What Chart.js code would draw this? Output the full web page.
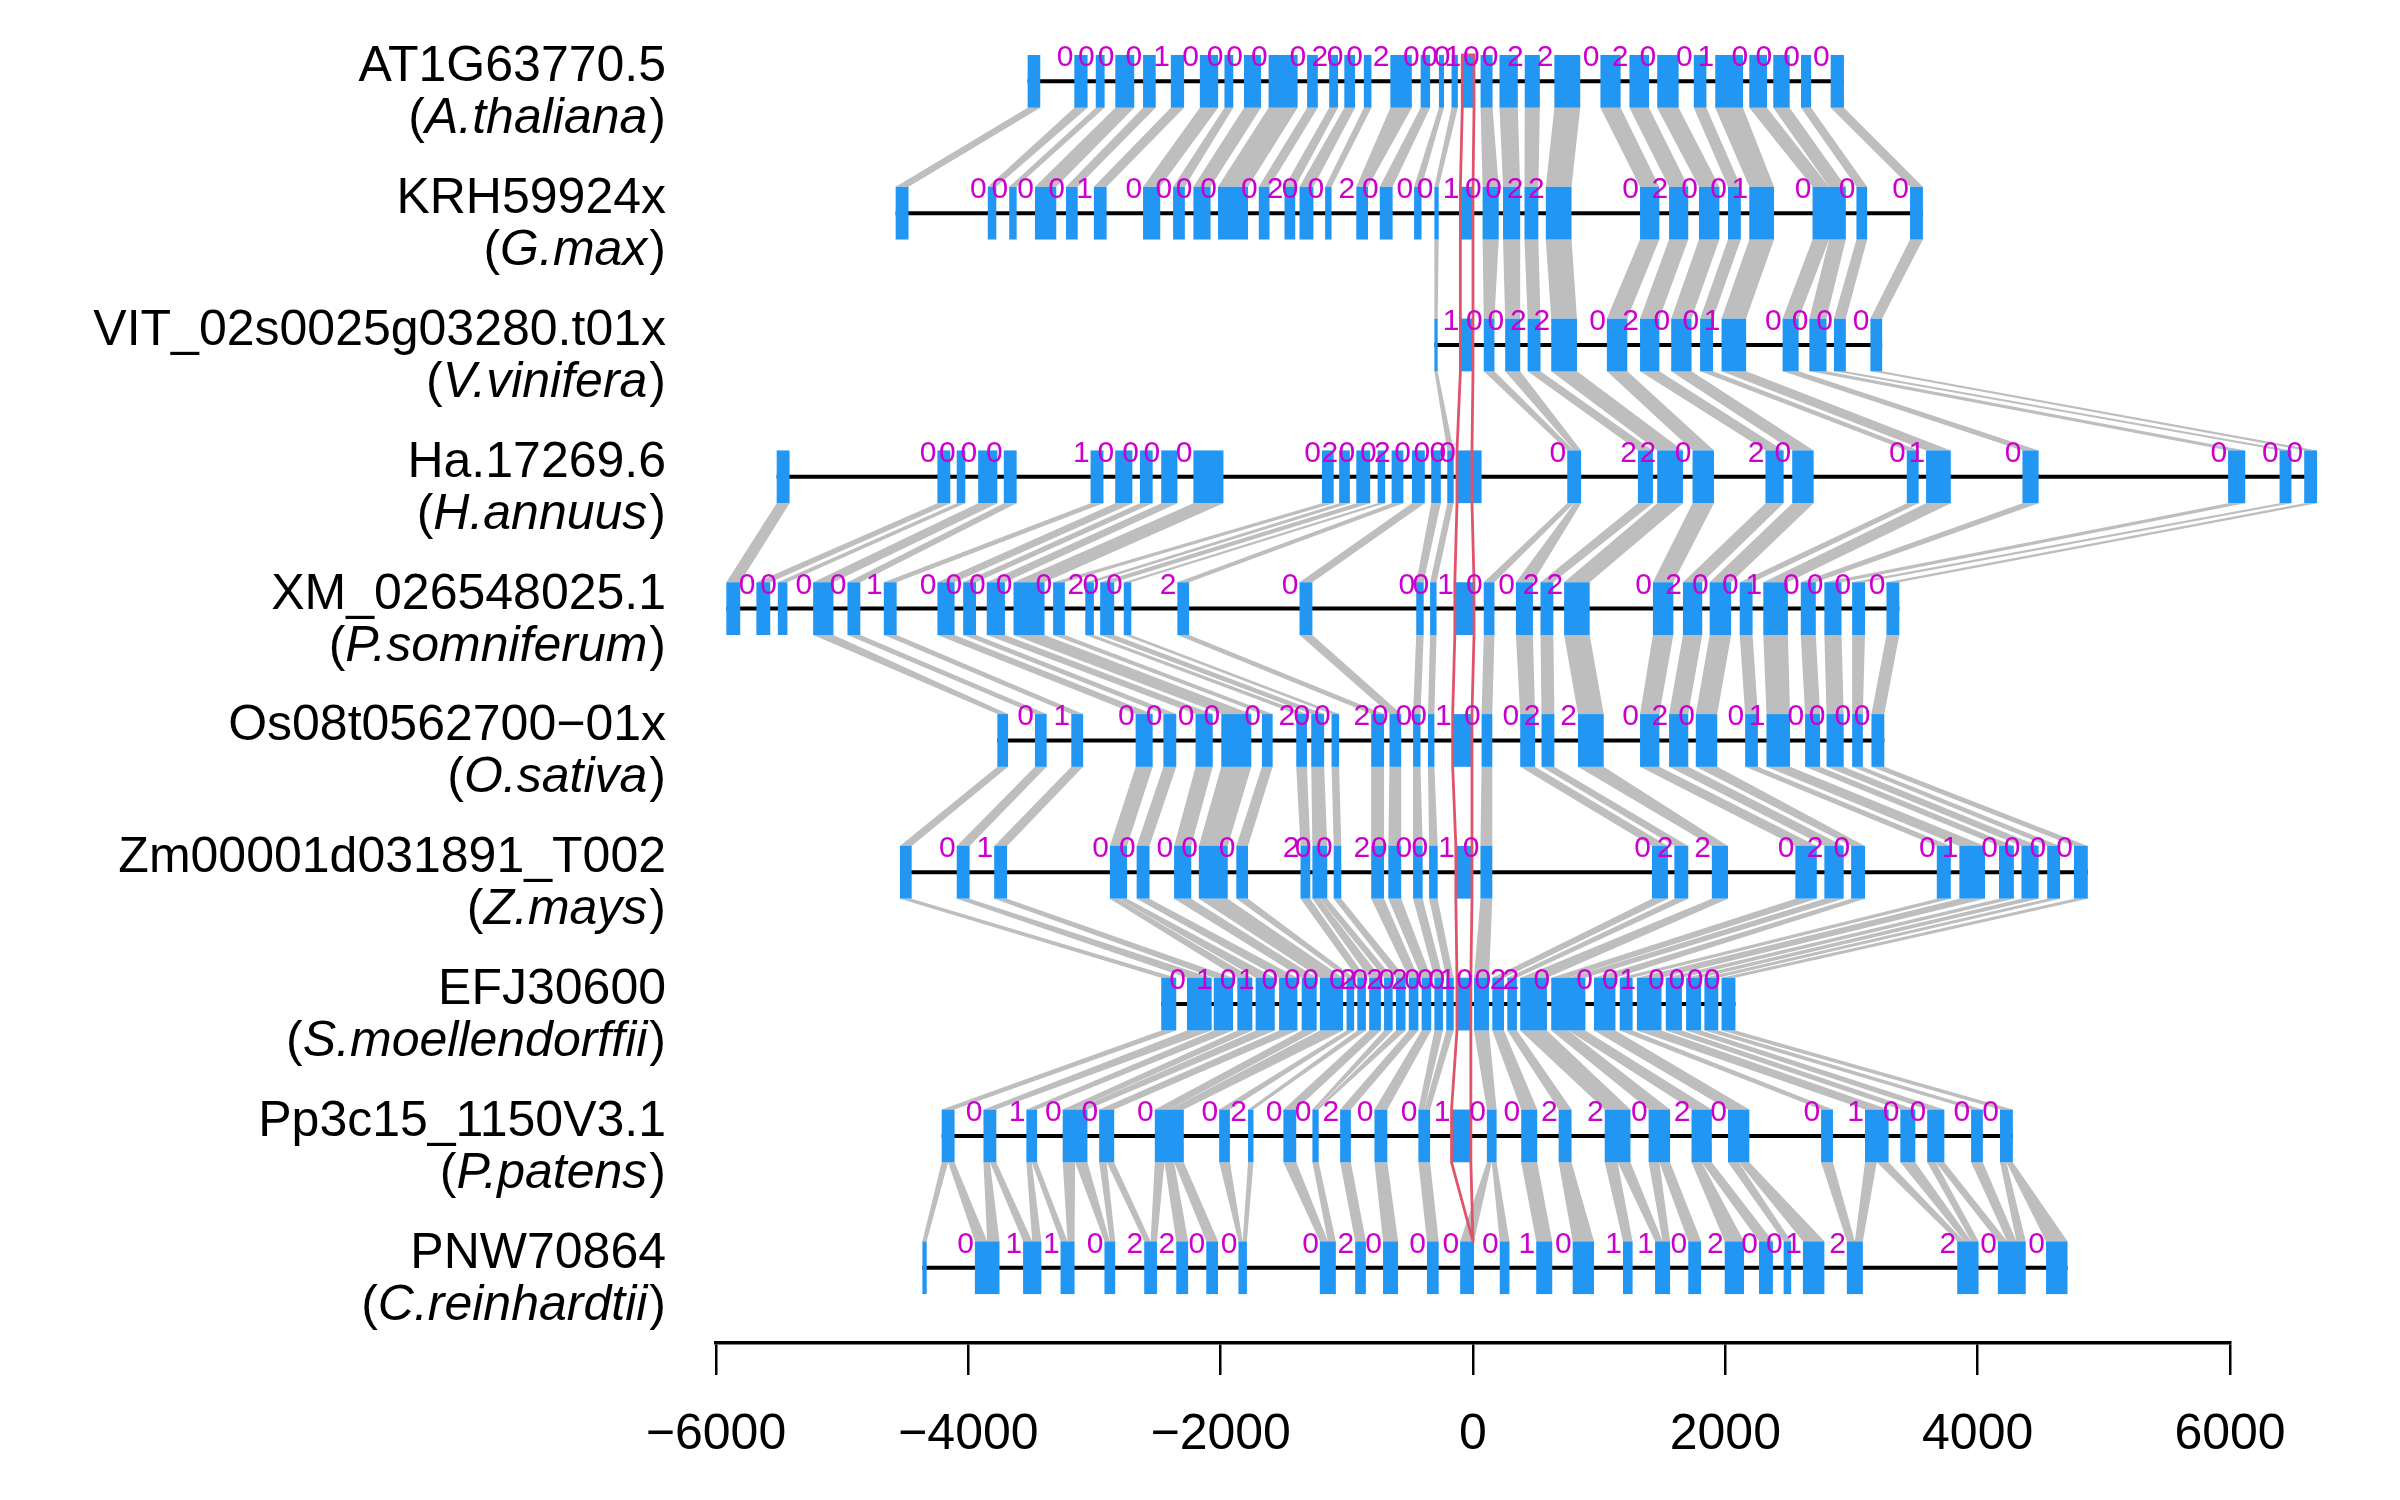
<!DOCTYPE html>
<html>
<head>
<meta charset="utf-8">
<script src="https://cdn.jsdelivr.net/npm/chart.js@4.4.1/dist/chart.umd.min.js"></script>
<style>
html,body{margin:0;padding:0;background:#fff;}
canvas{display:block;}
</style>
</head>
<body>
<canvas id="c" width="2400" height="1500" style="width:2400px;height:1500px"></canvas>
<script>
// ---------------- data ----------------
const geneNames = ["AT1G63770.5","KRH59924x","VIT_02s0025g03280.t01x","Ha.17269.6","XM_026548025.1","Os08t0562700\u221201x","Zm00001d031891_T002","EFJ30600","Pp3c15_1150V3.1","PNW70864"];
const speciesNames = ["A.thaliana","G.max","V.vinifera","H.annuus","P.somniferum","O.sativa","Z.mays","S.moellendorffii","P.patens","C.reinhardtii"];
const xTicks = [-6000,-4000,-2000,0,2000,4000,6000];

// exon [start,end] in bp, per gene
const exonsAth = [[-3530,-3430],[-3160,-3055],[-2990,-2920],[-2835,-2685],[-2615,-2515],[-2395,-2290],[-2165,-2020],[-1970,-1900],[-1815,-1680],[-1620,-1390],[-1315,-1230],[-1140,-1070],[-1020,-935],[-865,-805],[-655,-485],[-415,-340],[-270,-230],[-170,-120],[-85,8],[60,155],[210,355],[410,530],[645,850],[1010,1170],[1240,1395],[1460,1630],[1750,1850],[1920,2140],[2190,2330],[2380,2510],[2600,2680],[2835,2940]];
const phaseAth = [0,0,0,0,1,0,0,0,0,0,2,0,0,2,0,0,0,1,0,0,2,2,0,2,0,0,1,0,0,0,0];

const exonsGma = [[-4576,-4474],[-3846,-3778],[-3676,-3617],[-3472,-3303],[-3226,-3133],[-3005,-2904],[-2615,-2479],[-2377,-2284],[-2216,-2080],[-2021,-1783],[-1698,-1613],[-1494,-1409],[-1375,-1265],[-1172,-1121],[-925,-832],[-739,-637],[-467,-408],[-306,-272],[-100,0],[76,204],[238,374],[408,518],[577,781],[1324,1477],[1554,1706],[1791,1953],[2021,2123],[2190,2386],[2691,2955],[3039,3124],[3464,3566]];
const phaseGma = [0,0,0,0,1,0,0,0,0,0,2,0,0,2,0,0,0,1,0,0,2,2,0,2,0,0,1,0,0,0];

const exonsVvi = [[-306,-280],[-100,0],[85,170],[255,374],[433,535],[620,824],[1061,1223],[1324,1477],[1571,1732],[1800,1902],[1970,2165],[2454,2581],[2666,2802],[2861,2955],[3150,3243]];
const phaseVvi = [1,0,0,2,2,0,2,0,0,1,0,0,0,0];

const exonsHan = [[-5519,-5417],[-4245,-4143],[-4092,-4024],[-3922,-3770],[-3719,-3617],[-3031,-2929],[-2836,-2700],[-2640,-2539],[-2471,-2343],[-2216,-1978],[-1197,-1104],[-1061,-976],[-925,-815],[-756,-696],[-645,-552],[-484,-382],[-331,-255],[-204,-153],[-127,68],[747,857],[1307,1426],[1460,1664],[1740,1910],[2318,2462],[2530,2700],[3438,3532],[3591,3787],[4355,4483],[5985,6121],[6393,6487],[6588,6690]];
const phaseHan = [0,0,0,0,1,0,0,0,0,0,2,0,0,2,0,0,0,0,0,2,2,0,2,0,0,1,0,0,0,0];

const exonsPso = [[-5918,-5808],[-5680,-5570],[-5510,-5434],[-5230,-5069],[-4958,-4856],[-4670,-4568],[-4245,-4109],[-4041,-3939],[-3854,-3710],[-3642,-3396],[-3328,-3235],[-3073,-3005],[-2955,-2844],[-2768,-2708],[-2343,-2250],[-1375,-1273],[-450,-391],[-340,-289],[-144,8],[85,170],[340,475],[535,637],[722,925],[1426,1588],[1664,1817],[1876,2046],[2114,2216],[2301,2496],[2598,2717],[2785,2921],[3005,3107],[3277,3379]];
const phasePso = [0,0,0,0,1,0,0,0,0,0,2,0,0,2,0,0,0,1,0,0,2,2,0,2,0,0,1,0,0,0,0];

const exonsOsa = [[-3770,-3685],[-3472,-3379],[-3184,-3090],[-2674,-2539],[-2454,-2352],[-2199,-2063],[-1995,-1757],[-1673,-1588],[-1401,-1316],[-1282,-1180],[-1121,-1061],[-807,-705],[-662,-569],[-475,-416],[-357,-306],[-161,-8],[68,153],[374,492],[543,645],[832,1036],[1324,1477],[1554,1706],[1766,1936],[2157,2258],[2326,2513],[2632,2751],[2802,2938],[3005,3090],[3158,3260]];
const phaseOsa = [0,1,0,0,0,0,0,2,0,0,2,0,0,0,1,0,0,2,2,0,2,0,0,1,0,0,0,0];

const exonsZma = [[-4542,-4449],[-4092,-3990],[-3795,-3693],[-2878,-2742],[-2666,-2564],[-2369,-2233],[-2173,-1944],[-1876,-1783],[-1367,-1290],[-1273,-1155],[-1104,-1044],[-807,-705],[-671,-569],[-475,-399],[-348,-280],[-136,-8],[59,153],[1418,1545],[1596,1706],[1893,2021],[2555,2725],[2785,2938],[2997,3107],[3676,3787],[3855,4058],[4169,4287],[4347,4483],[4551,4653],[4763,4873]];
const phaseZma = [0,1,0,0,0,0,0,2,0,0,2,0,0,0,1,0,0,2,2,0,2,0,0,1,0,0,0,0];

const exonsSmo = [[-2471,-2352],[-2267,-2071],[-2055,-1902],[-1868,-1749],[-1723,-1571],[-1537,-1392],[-1358,-1239],[-1214,-1030],[-1002,-942],[-917,-849],[-823,-730],[-705,-637],[-611,-535],[-509,-433],[-407,-331],[-306,-238],[-212,-153],[-127,-17],[8,127],[153,246],[272,348],[374,586],[620,891],[959,1129],[1163,1265],[1299,1494],[1528,1656],[1689,1808],[1834,1944],[1970,2080]];
const phaseSmo = [0,1,0,1,0,0,0,0,2,0,2,0,2,0,0,0,1,0,0,2,2,0,0,0,1,0,0,0,0];

const exonsPpa = [[-4211,-4109],[-3880,-3778],[-3540,-3455],[-3252,-3056],[-2963,-2844],[-2522,-2292],[-2012,-1927],[-1783,-1740],[-1503,-1401],[-1273,-1223],[-1053,-968],[-781,-679],[-433,-340],[-170,-17],[110,187],[382,509],[679,781],[1044,1248],[1392,1562],[1732,1893],[2021,2190],[2759,2853],[3107,3294],[3387,3506],[3600,3736],[3948,4041],[4177,4279]];
const phasePpa = [0,1,0,0,0,0,2,0,0,2,0,0,1,0,0,2,2,0,2,0,0,1,0,0,0,0];

const exonsCre = [[-4364,-4330],[-3948,-3753],[-3566,-3421],[-3269,-3158],[-2921,-2836],[-2606,-2505],[-2352,-2258],[-2114,-2021],[-1859,-1792],[-1214,-1087],[-934,-849],[-713,-594],[-365,-272],[-102,8],[212,289],[501,628],[790,959],[1189,1265],[1443,1562],[1706,1808],[1995,2148],[2267,2377],[2462,2522],[2615,2785],[2963,3090],[3838,4007],[4160,4381],[4542,4712]];
const phaseCre = [0,1,1,0,2,2,0,0,0,2,0,0,0,0,1,0,1,1,0,2,0,0,1,2,2,0,0];

// homology links between neighbouring genes: [upper exon index, lower exon index]
const linkAthGma = [[0,0],[1,1],[2,2],[3,3],[4,4],[5,5],[6,6],[7,7],[8,8],[9,9],[10,10],[11,11],[12,12],[13,13],[14,14],[15,15],[16,16],[17,17],[19,19],[20,20],[21,21],[22,22],[23,23],[24,24],[25,25],[26,26],[27,27],[28,28],[29,28],[30,29],[31,30]];
const linkGmaVvi = [[17,0],[19,2],[20,3],[21,4],[22,5],[23,6],[24,7],[25,8],[26,9],[27,10],[28,11],[28,12],[29,13],[30,14]];
const linkVviHan = [[0,17],[2,19],[3,19],[4,20],[5,21],[6,22],[7,23],[8,24],[9,25],[10,26],[11,27],[12,28],[13,29],[14,30]];
const linkHanPso = [[0,0],[1,1],[2,2],[3,3],[4,4],[5,5],[6,6],[7,7],[8,8],[9,9],[10,10],[11,11],[12,12],[13,13],[14,14],[15,15],[16,16],[17,17],[19,19],[19,20],[20,21],[21,22],[22,23],[23,24],[24,25],[25,26],[26,27],[27,28],[28,29],[29,30],[30,31]];
const linkPsoOsa = [[3,0],[4,1],[5,2],[6,3],[7,4],[8,5],[9,6],[10,7],[11,8],[12,9],[13,10],[14,11],[15,12],[16,13],[17,14],[19,16],[20,17],[21,18],[22,19],[23,20],[24,21],[25,22],[26,23],[27,24],[28,25],[29,26],[30,27],[31,28]];
const linkOsaZma = [[0,0],[1,1],[2,2],[3,3],[4,4],[5,5],[6,6],[7,7],[8,8],[9,9],[10,10],[11,11],[12,12],[13,13],[14,14],[16,16],[17,17],[18,18],[19,19],[20,20],[21,21],[22,22],[23,23],[24,24],[25,25],[26,26],[27,27],[28,28]];
const linkZmaSmo = [[0,0],[1,1],[2,2],[3,3],[3,4],[4,5],[5,6],[6,7],[7,8],[8,9],[9,10],[9,11],[10,12],[11,13],[12,14],[13,15],[14,16],[16,18],[17,19],[18,20],[19,21],[20,22],[21,22],[22,23],[23,24],[24,25],[25,26],[26,27],[27,28],[28,29]];
const linkSmoPpa = [[0,0],[1,1],[2,2],[3,3],[4,3],[5,4],[6,5],[7,5],[8,6],[9,7],[10,8],[11,9],[12,9],[13,10],[14,11],[15,12],[16,12],[18,14],[19,15],[20,16],[21,17],[22,18],[22,19],[23,20],[24,21],[25,22],[26,23],[27,24],[28,25],[29,26]];
const linkPpaCre = [[0,0],[0,1],[1,1],[1,2],[2,2],[2,3],[3,3],[3,4],[4,4],[4,5],[5,5],[5,6],[5,7],[6,8],[7,8],[8,9],[9,9],[10,10],[11,11],[12,12],[14,13],[14,14],[15,15],[16,16],[17,17],[17,18],[18,18],[18,19],[19,20],[19,21],[20,22],[20,23],[21,24],[22,24],[22,25],[23,25],[24,25],[24,26],[25,26],[26,26],[26,27]];

// highlighted (red) exon column: left/right bp per gene
const redLeft  = [-85,-100,-100,-127,-144,-161,-136,-127,-170,0];
const redRight = [8,0,0,-8,8,-8,-8,-17,-17,0];

// ---------------- assembly ----------------
const allExons = [exonsAth,exonsGma,exonsVvi,exonsHan,exonsPso,exonsOsa,exonsZma,exonsSmo,exonsPpa,exonsCre];
const allPhases = [phaseAth,phaseGma,phaseVvi,phaseHan,phasePso,phaseOsa,phaseZma,phaseSmo,phasePpa,phaseCre];
const allLinks = [linkAthGma,linkGmaVvi,linkVviHan,linkHanPso,linkPsoOsa,linkOsaZma,linkZmaSmo,linkSmoPpa,linkPpaCre];

const FONT = '"Liberation Sans", Arial, Helvetica, sans-serif';
const HALF = 0.2; // exon half-height in track units

const genePlugin = {
  id: 'genes',
  afterDatasetsDraw(chart) {
    const ctx = chart.ctx;
    const xs = chart.scales.x, ys = chart.scales.y;
    const px = v => xs.getPixelForValue(v);
    const py = v => ys.getPixelForValue(v);
    ctx.save();

    // links
    ctx.fillStyle = '#BEBEBE';
    allLinks.forEach((links, g) => {
      const up = allExons[g], lo = allExons[g + 1];
      const uMap = {}, lMap = {};
      links.forEach(([u, l]) => {
        (uMap[u] = uMap[u] || []).push(l);
        (lMap[l] = lMap[l] || []).push(u);
      });
      const y1 = py(g + HALF), y2 = py(g + 1 - HALF);
      links.forEach(([u, l]) => {
        const ul = uMap[u].slice().sort((a, b) => a - b);
        const ll = lMap[l].slice().sort((a, b) => a - b);
        const ru = ul.indexOf(l), nu = ul.length;
        const rl = ll.indexOf(u), nl = ll.length;
        const [us, ue] = up[u], [ls, le] = lo[l];
        const ua = us + (ue - us) * ru / nu, ub = us + (ue - us) * (ru + 1) / nu;
        const la = ls + (le - ls) * rl / nl, lb = ls + (le - ls) * (rl + 1) / nl;
        ctx.beginPath();
        ctx.moveTo(px(ua), y1);
        ctx.lineTo(px(ub), y1);
        ctx.lineTo(px(lb), y2);
        ctx.lineTo(px(la), y2);
        ctx.closePath();
        ctx.fill();
      });
    });

    // backbones and exons
    allExons.forEach((ex, i) => {
      const yc = py(i);
      ctx.strokeStyle = '#000';
      ctx.lineWidth = 4;
      ctx.beginPath();
      ctx.moveTo(px(ex[0][0]), yc);
      ctx.lineTo(px(ex[ex.length - 1][1]), yc);
      ctx.stroke();
      ctx.fillStyle = '#2196F3';
      const yt = py(i - HALF), yb = py(i + HALF);
      ex.forEach(([s, e]) => {
        const a = px(s), b = px(e);
        ctx.fillRect(a, yt, Math.max(b - a, 1.5), yb - yt);
      });
    });

    // red highlighted column
    ctx.strokeStyle = '#DF536B';
    ctx.lineWidth = 2.8;
    ctx.lineJoin = 'round';
    ctx.beginPath();
    const n = redLeft.length;
    for (let i = 0; i < n; i++) {
      if (i < n - 1) {
        ctx[i === 0 ? 'moveTo' : 'lineTo'](px(redLeft[i]), py(i - HALF));
        ctx.lineTo(px(redLeft[i]), py(i + HALF));
      } else {
        ctx.lineTo(px(redLeft[i]), py(i - HALF));
      }
    }
    for (let i = n - 1; i >= 0; i--) {
      if (i < n - 1) {
        ctx.lineTo(px(redRight[i]), py(i + HALF));
        ctx.lineTo(px(redRight[i]), py(i - HALF));
      } else {
        ctx.lineTo(px(redRight[i]), py(i - HALF));
      }
    }
    ctx.closePath();
    ctx.stroke();

    // intron phase labels
    ctx.fillStyle = '#CC00CC';
    ctx.font = '30px ' + FONT;
    ctx.textAlign = 'right';
    ctx.textBaseline = 'alphabetic';
    allPhases.forEach((ph, i) => {
      const ex = allExons[i];
      const yb = py(i - 0.114);
      ph.forEach((p, k) => {
        ctx.fillText(String(p), px(ex[k + 1][0]) - 1, yb);
      });
    });

    // gene / species labels
    const xr = xs.left - 50;
    ctx.fillStyle = '#000';
    geneNames.forEach((nm, i) => {
      const yb = py(i);
      ctx.font = '50px ' + FONT;
      ctx.textAlign = 'right';
      ctx.fillText(nm, xr, yb);
      const y2 = yb + 52;
      const wR = ctx.measureText(')').width;
      ctx.fillText(')', xr, y2);
      ctx.font = 'italic 50px ' + FONT;
      const wS = ctx.measureText(speciesNames[i]).width;
      ctx.fillText(speciesNames[i], xr - wR - 2, y2);
      ctx.font = '50px ' + FONT;
      ctx.fillText('(', xr - wR - 2 - wS, y2);
    });
    ctx.restore();
  }
};

new Chart(document.getElementById('c'), {
  type: 'scatter',
  data: { datasets: [] },
  options: {
    responsive: false,
    animation: false,
    devicePixelRatio: 1,
    layout: { padding: { left: 716, right: 170, top: 0, bottom: 0 } },
    plugins: { legend: { display: false }, tooltip: { enabled: false } },
    scales: {
      x: {
        type: 'linear', position: 'bottom', min: -6000, max: 6000,
        afterFit: s => { s.height = 157; },
        afterBuildTicks: s => { s.ticks = xTicks.map(v => ({ value: v })); },
        grid: { drawOnChartArea: false, drawTicks: true, tickLength: 32, color: '#000', lineWidth: 2.5 },
        border: { display: true, color: '#000', width: 3.5 },
        ticks: {
          color: '#000', padding: 30, maxRotation: 0, autoSkip: false,
          font: { family: FONT, size: 50 },
          callback: v => (v < 0 ? '\u2212' + Math.abs(v) : String(v))
        }
      },
      y: { type: 'linear', min: -0.617, max: 9.571, reverse: true, display: false }
    }
  },
  plugins: [genePlugin]
});
</script>
</body>
</html>
